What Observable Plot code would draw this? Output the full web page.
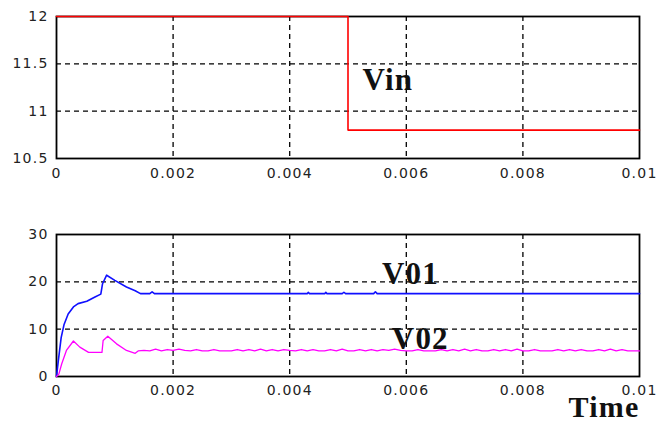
<!DOCTYPE html>
<html>
<head>
<meta charset="utf-8">
<script src="https://cdn.jsdelivr.net/npm/d3@7"></script>
<script src="https://cdn.jsdelivr.net/npm/@observablehq/plot@0.6"></script>
<style>
  html, body { margin: 0; padding: 0; background: #fff; }
  #wrap { position: relative; width: 670px; height: 430px; }
  #top, #bottom { position: absolute; left: 0; }
  #top { top: 0; }
  #bottom { top: 200px; }
</style>
</head>
<body>
<div id="wrap"><div id="top"></div><div id="bottom"></div></div>
<script>
// ---- tick values and labels ----
const xTicks = [0, 0.002, 0.004, 0.006, 0.008, 0.01];
const xTickLabels = ["0", "0.002", "0.004", "0.006", "0.008", "0.01"];
const xGrid = [0.002, 0.004, 0.006, 0.008];
const vinTicks = [10.5, 11, 11.5, 12];
const vinTickLabels = ["10.5", "11", "11.5", "12"];
const vinGrid = [11, 11.5];
const voTicks = [0, 10, 20, 30];
const voTickLabels = ["0", "10", "20", "30"];
const voGrid = [10, 20];

// ---- Vin series (step) ----
const vinTime = [0, 0.005, 0.01];
const vinValue = [12, 10.8, 10.8];

// ---- V01 series ----
const v01Time = [0, 0.00003, 0.00008, 0.00013, 0.0002, 0.00029, 0.00037, 0.00052, 0.00066, 0.00076, 0.00079, 0.00086, 0.001, 0.0012, 0.00135, 0.00144, 0.0016, 0.00164, 0.00168, 0.0043, 0.00432, 0.00434, 0.0046, 0.00462, 0.00464, 0.0049, 0.00493, 0.00496, 0.00544, 0.00547, 0.0055, 0.01];
const v01Value = [0, 3.2, 8.2, 11.0, 13.2, 14.7, 15.4, 15.9, 16.8, 17.4, 19.6, 21.4, 20.3, 18.9, 18.1, 17.5, 17.5, 17.9, 17.5, 17.5, 17.8, 17.5, 17.5, 17.8, 17.5, 17.5, 17.8, 17.5, 17.5, 17.9, 17.5, 17.5];

// ---- V02 series ----
const v02Time = [0, 0.00004, 0.00009, 0.00017, 0.00029, 0.0004, 0.00055, 0.00078, 0.0008, 0.00088, 0.00103, 0.0012, 0.00135,
  0.0014, 0.0015, 0.0016, 0.0017, 0.0018, 0.0019, 0.0020, 0.0021, 0.0022, 0.0023, 0.0024, 0.0025, 0.0026, 0.0027, 0.0028, 0.0029,
  0.0030, 0.0031, 0.0032, 0.0033, 0.0034, 0.0035, 0.0036, 0.0037, 0.0038, 0.0039, 0.0040, 0.0041, 0.0042, 0.0043, 0.0044, 0.0045,
  0.0046, 0.0047, 0.0048, 0.0049, 0.0050, 0.0051, 0.0052, 0.0053, 0.0054, 0.0055, 0.0056, 0.0057, 0.0058, 0.0059, 0.0060, 0.0061,
  0.0062, 0.0063, 0.0064, 0.0065, 0.0066, 0.0067, 0.0068, 0.0069, 0.0070, 0.0071, 0.0072, 0.0073, 0.0074, 0.0075, 0.0076, 0.0077,
  0.0078, 0.0079, 0.0080, 0.0081, 0.0082, 0.0083, 0.0084, 0.0085, 0.0086, 0.0087, 0.0088, 0.0089, 0.0090, 0.0091, 0.0092, 0.0093,
  0.0094, 0.0095, 0.0096, 0.0097, 0.0098, 0.0099, 0.0100];
const v02Value = [0, 0.5, 2.7, 5.5, 7.5, 6.2, 5.1, 5.1, 7.6, 8.5, 6.9, 5.5, 4.9,
  5.4, 5.5, 5.4, 5.8, 5.4, 5.7, 5.5, 5.8, 5.5, 5.4, 5.7, 5.4, 5.4, 5.7, 5.4, 5.4,
  5.4, 5.7, 5.4, 5.7, 5.4, 5.8, 5.4, 5.7, 5.4, 5.7, 5.5, 5.4, 5.7, 5.4, 5.7, 5.4,
  5.4, 5.7, 5.4, 5.8, 5.4, 5.4, 5.7, 5.4, 5.7, 5.4, 5.7, 5.5, 5.8, 5.5, 5.4, 5.4,
  5.7, 5.4, 5.4, 5.4, 5.7, 5.4, 5.7, 5.4, 5.8, 5.4, 5.7, 5.4, 5.4, 5.7, 5.4, 5.7,
  5.4, 5.8, 5.4, 5.4, 5.7, 5.4, 5.4, 5.4, 5.7, 5.4, 5.7, 5.4, 5.7, 5.4, 5.4, 5.7,
  5.4, 5.8, 5.4, 5.7, 5.4, 5.4, 5.4];

// ---- annotation labels ----
const topLabels = [{text: "Vin", t: 0.00525, v: 11.33}];
const bottomLabels = [{text: "V01", t: 0.00607, v: 21.7}, {text: "V02", t: 0.00624, v: 7.96}];
const xAxisTitle = ["Time"];

const vinData = vinTime.map((t, i) => ({t, v: vinValue[i]}));
const v01Data = v01Time.map((t, i) => ({t, v: v01Value[i]}));
const v02Data = v02Time.map((t, i) => ({t, v: v02Value[i]}));

const tickStyle = {fontFamily: "DejaVu Sans", fontSize: "14px", letterSpacing: "1.2px", color: "#222", background: "white"};
const labelFont = {fontFamily: "Liberation Serif", fontWeight: "bold", fontSize: 31, fill: "#111"};
const grid = {stroke: "black", strokeWidth: 1.3, strokeDasharray: "5,4", strokeOpacity: 1};

const topChart = Plot.plot({
  width: 670, height: 190,
  marginLeft: 56, marginRight: 31, marginTop: 16, marginBottom: 32,
  style: tickStyle,
  x: {domain: [0, 0.01]},
  y: {domain: [10.5, 12]},
  marks: [
    Plot.ruleX(xGrid, grid),
    Plot.ruleY(vinGrid, grid),
    Plot.frame({stroke: "black", strokeWidth: 1.8}),
    Plot.axisX({ticks: xTicks, tickFormat: (d, i) => xTickLabels[i], tickSize: 0, tickPadding: 10, label: null}),
    Plot.axisY({ticks: vinTicks, tickFormat: (d, i) => vinTickLabels[i], tickSize: 0, tickPadding: 8, label: null}),
    Plot.line(vinData, {x: "t", y: "v", curve: "step-after", stroke: "#ff0000", strokeWidth: 1.6}),
    Plot.text(topLabels, {x: "t", y: "v", text: "text", textAnchor: "start", ...labelFont})
  ]
});
document.getElementById("top").appendChild(topChart);

const bottomChart = Plot.plot({
  width: 670, height: 230,
  marginLeft: 56, marginRight: 31, marginTop: 34, marginBottom: 54,
  style: tickStyle,
  x: {domain: [0, 0.01]},
  y: {domain: [0, 30]},
  marks: [
    Plot.ruleX(xGrid, grid),
    Plot.ruleY(voGrid, grid),
    Plot.frame({stroke: "black", strokeWidth: 1.8}),
    Plot.axisX({ticks: xTicks, tickFormat: (d, i) => xTickLabels[i], tickSize: 0, tickPadding: 9, label: null}),
    Plot.axisY({ticks: voTicks, tickFormat: (d, i) => voTickLabels[i], tickSize: 0, tickPadding: 8, label: null}),
    Plot.line(v01Data, {x: "t", y: "v", stroke: "#1010ff", strokeWidth: 1.6}),
    Plot.line(v02Data, {x: "t", y: "v", stroke: "#ff00ff", strokeWidth: 1.3}),
    Plot.text(bottomLabels, {x: "t", y: "v", text: "text", textAnchor: "middle", ...labelFont}),
    Plot.text(xAxisTitle, {frameAnchor: "bottom-right", dy: 40, textAnchor: "end", text: d => d, ...labelFont, fontSize: 30})
  ]
});
document.getElementById("bottom").appendChild(bottomChart);
</script>
</body>
</html>
